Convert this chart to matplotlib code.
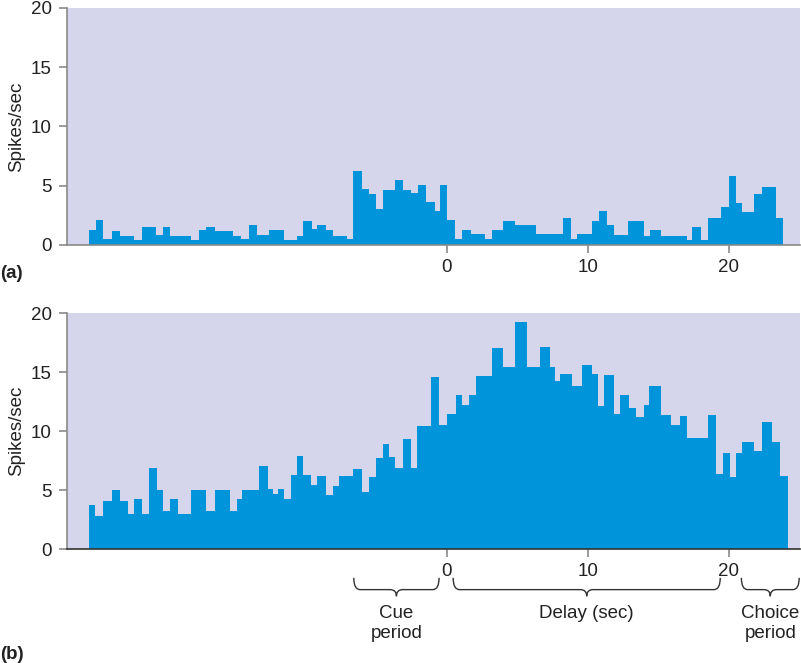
import numpy as np
import matplotlib
matplotlib.use("Agg")
import matplotlib.pyplot as plt
from matplotlib.path import Path
from matplotlib.patches import PathPatch
import matplotlib.transforms as mtransforms

plt.rcParams['font.family'] = ['Liberation Sans', 'DejaVu Sans']

# ---- data: spike-rate histograms (time in sec, rate in spikes/sec)
edges_a = [-25.37, -24.89, -24.38, -23.78, -23.19, -22.20, -21.65, -20.64, -20.16, -19.65,
           -18.18, -17.59, -17.11, -16.45, -15.16, -14.61, -14.04, -13.45, -12.62, -11.56,
           -10.66, -10.23, -9.60, -9.24, -8.58, -8.06, -7.11, -6.69, -6.05, -5.51,
           -5.04, -4.56, -3.69, -3.10, -2.55, -2.04, -1.49, -0.85, -0.50, 0.0,
           0.57, 1.11, 1.75, 2.72, 3.24, 3.99, 4.82, 6.36, 8.21, 8.84,
           9.24, 10.33, 10.78, 11.37, 11.84, 12.82, 13.99, 14.45, 15.18, 17.04,
           17.43, 18.01, 18.53, 19.48, 20.0, 20.50, 20.97, 21.79, 22.36, 23.33, 23.85]
rate_a = [1.25, 2.07, 0.49, 1.14, 0.78, 0.44, 1.48, 0.80, 1.48, 0.78,
          0.44, 1.25, 1.50, 1.20, 0.72, 0.49, 1.65, 0.86, 1.25, 0.44,
          0.78, 2.04, 1.31, 1.71, 1.25, 0.78, 0.47, 6.21, 4.69, 4.29,
          3.03, 4.66, 5.45, 4.66, 4.38, 5.03, 3.62, 2.83, 5.03, 2.07,
          0.49, 1.25, 0.92, 0.49, 1.25, 2.04, 1.65, 0.90, 2.27, 0.47,
          0.90, 2.04, 2.83, 1.65, 0.80, 2.00, 0.78, 1.25, 0.78, 0.44,
          1.48, 0.44, 2.27, 3.17, 5.85, 3.53, 2.75, 4.29, 4.86, 2.27]

edges_b = [-25.39, -24.94, -24.38, -23.78, -23.19, -22.60, -22.20, -21.65, -21.13, -20.59,
           -20.14, -19.65, -19.06, -18.16, -17.11, -16.43, -15.39, -14.89, -14.52, -13.31,
           -12.67, -12.32, -11.99, -11.56, -11.06, -10.66, -10.21, -9.62, -9.20, -8.60,
           -8.11, -7.64, -6.65, -6.05, -5.53, -5.04, -4.56, -4.09, -3.67, -3.10,
           -2.57, -2.08, -1.13, -0.55, 0.0, 0.62, 1.11, 1.56, 2.04, 3.24,
           3.99, 4.82, 5.67, 6.60, 7.30, 7.71, 8.06, 8.89, 9.60, 10.30,
           10.73, 11.18, 11.87, 12.29, 12.93, 13.43, 13.97, 14.33, 15.20, 15.91,
           16.55, 17.02, 18.51, 19.10, 19.57, 20.07, 20.55, 20.94, 21.79, 22.34,
           23.05, 23.62, 24.21]
rate_b = [3.69, 2.80, 4.08, 4.99, 4.08, 2.97, 4.22, 2.97, 6.84, 4.99,
          3.20, 4.28, 2.97, 4.96, 3.20, 4.96, 3.20, 4.22, 4.96, 7.04,
          5.10, 4.65, 5.10, 4.22, 6.27, 7.87, 6.27, 5.39, 6.21, 4.54,
          5.36, 6.21, 6.81, 4.85, 6.10, 7.75, 8.94, 7.81, 6.90, 9.34,
          6.90, 10.45, 14.55, 10.54, 11.42, 13.01, 12.22, 13.04, 14.66, 17.05,
          15.46, 19.24, 15.46, 17.11, 15.43, 14.26, 14.80, 13.84, 15.57, 14.80,
          12.16, 14.72, 11.42, 13.01, 11.99, 11.16, 12.24, 13.81, 11.33, 10.51,
          11.31, 9.37, 11.39, 6.33, 8.15, 6.07, 8.15, 9.09, 8.32, 10.79,
          9.09, 6.21]

yticks = [0, 5, 10, 15, 20]
xticks = [0, 10, 20]
periods = [("Cue\nperiod", -6.6, -0.55), ("Delay (sec)", 0.45, 19.4), ("Choice\nperiod", 20.9, 25.0)]

BAR = '#0095db'
BG = '#d5d5ec'
GREY = '#8a8a8a'
TXT = '#222222'
FS = 13.5

########################################################################
def style_axes(ax, bottom_col):
	ax.set_facecolor(BG)
	ax.set_xlim(-26.95, 25.05)
	ax.set_ylim(0, 20)
	for s in ['top', 'right']:
		ax.spines[s].set_visible(False)
	ax.spines['left'].set_color(GREY)
	ax.spines['left'].set_linewidth(1.2)
	ax.spines['bottom'].set_color(bottom_col)
	ax.spines['bottom'].set_linewidth(1.2)
	ax.set_yticks(yticks)
	ax.set_xticks(xticks)
	ax.tick_params(axis='both', direction='out', length=6, width=1.2, color=GREY,
				   labelsize=FS, labelcolor=TXT)
	ax.tick_params(axis='y', pad=5)
	ax.tick_params(axis='x', pad=4)
	ax.set_ylabel('Spikes/sec', fontsize=FS, color=TXT, labelpad=4)

def brace(ax, x0, x1, yt, yf, ytip, r):
	xm = 0.5 * (x0 + x1)
	verts = [(x0, yt), (x0, yf), (x0 + r, yf),
			 (xm - r, yf), (xm, yf), (xm, ytip),
			 (xm, yf), (xm + r, yf),
			 (x1 - r, yf), (x1, yf), (x1, yt)]
	codes = [Path.MOVETO, Path.CURVE3, Path.CURVE3,
			 Path.LINETO, Path.CURVE3, Path.CURVE3,
			 Path.CURVE3, Path.CURVE3,
			 Path.LINETO, Path.CURVE3, Path.CURVE3]
	tr = mtransforms.blended_transform_factory(ax.transData, ax.transAxes)
	ax.add_patch(PathPatch(Path(verts, codes), transform=tr, fill=False,
						   edgecolor='#333333', linewidth=1.0, clip_on=False))
	return xm

fig = plt.figure(figsize=(8.01, 6.63), dpi=100)
ax1 = fig.add_axes([0.0836, 0.6305, 0.915, 0.3575])
ax2 = fig.add_axes([0.0836, 0.1719, 0.915, 0.3560])

style_axes(ax1, GREY)
style_axes(ax2, '#333333')

ax1.stairs(rate_a, edges_a, fill=True, color=BAR, linewidth=0)
ax2.stairs(rate_b, edges_b, fill=True, color=BAR, linewidth=0)

tr2 = mtransforms.blended_transform_factory(ax2.transData, ax2.transAxes)
for label, x0, x1 in periods:
	xm = brace(ax2, x0, x1, -0.122, -0.172, -0.200, 0.45)
	ax2.text(xm, -0.238, label, transform=tr2, ha='center', va='top',
			 fontsize=FS, color=TXT, linespacing=1.25)

fig.text(0.0, 0.588, '(a)', fontsize=FS, fontweight='bold', color=TXT, va='center')
fig.text(0.0, 0.013, '(b)', fontsize=FS, fontweight='bold', color=TXT, va='center')

fig.savefig('out.png', dpi=100)
